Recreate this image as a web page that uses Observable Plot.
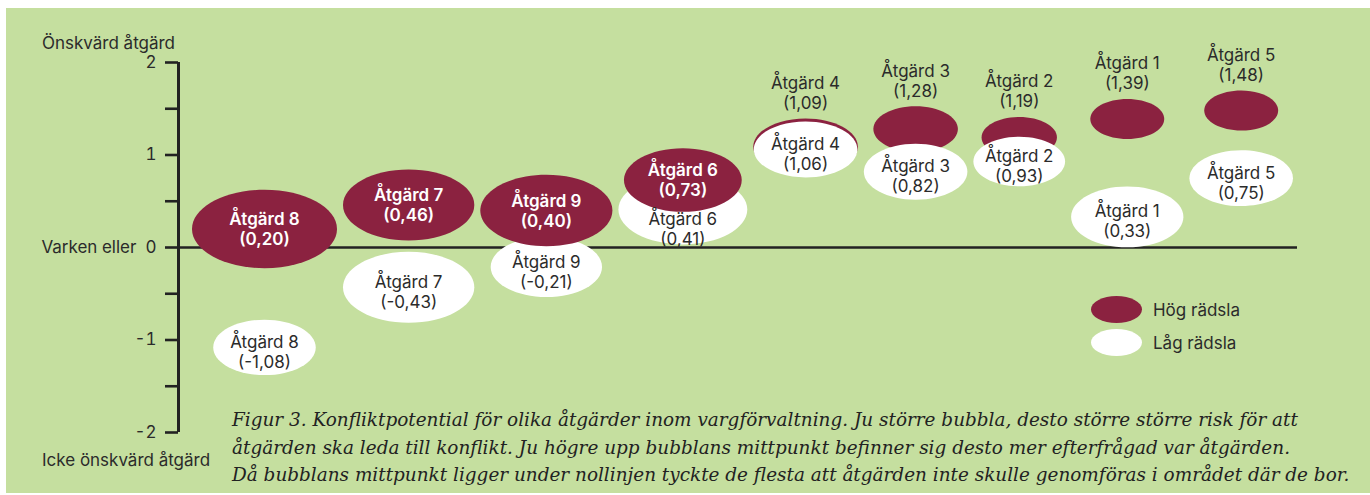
<!DOCTYPE html>
<html>
<head>
<meta charset="utf-8">
<script src="https://cdn.jsdelivr.net/npm/d3@7"></script>
<script src="https://cdn.jsdelivr.net/npm/@observablehq/plot@0.6"></script>
<style>
  body { margin: 0; background: #ffffff; width: 1370px; height: 495px; overflow: hidden; position: relative; font-family: Inter, "Noto Sans", sans-serif; }
  #bg { position: absolute; left: 6px; top: 8px; width: 1364px; height: 485px; background: #c5df9f; }
  #chart { position: absolute; left: 0; top: 0; }
  .axlab { position: absolute; color: #2b2b2b; white-space: nowrap; line-height: 1; }
  #legend { position: absolute; left: 1091px; top: 296px; display: flex; flex-direction: column; gap: 6px; }
  .lg { display: flex; align-items: center; gap: 11px; color: #2b2b2b; }
  .lg span.sw { display: inline-block; width: 51px; height: 27px; border-radius: 50%; }
  #caption { position: absolute; left: 232px; top: 406px; font-family: "DejaVu Serif", serif; font-style: italic; font-size: 17.5px; line-height: 27.5px; color: #222; white-space: nowrap; }
</style>
</head>
<body>
<div id="bg"></div>
<div id="chart"></div>
<div class="axlab" id="axTop"></div>
<div class="axlab" id="axBottom"></div>
<div id="legend"></div>
<div id="caption"></div>
<script>
// ---- data ----
const measures  = ["Åtgärd 8", "Åtgärd 7", "Åtgärd 9", "Åtgärd 6", "Åtgärd 4", "Åtgärd 3", "Åtgärd 2", "Åtgärd 1", "Åtgärd 5"];
const highFear  = [0.20, 0.46, 0.40, 0.73, 1.09, 1.28, 1.19, 1.39, 1.48];
const lowFear   = [-1.08, -0.43, -0.21, 0.41, 1.06, 0.82, 0.93, 0.33, 0.75];
// estimated conflict risk (relative bubble area)
const highRisk  = [100, 82, 83, 66, 52, 34, 27, 26, 26];
const lowRisk   = [50, 82, 59, 79, 51, 51, 40, 60, 51];
const series    = ["Hög rädsla", "Låg rädsla"];
const yTicks    = [-2, -1.5, -1, -0.5, 0, 0.5, 1, 1.5, 2];
const yTickText = {"-2": "-2", "-1": "-1", "0": "Varken eller\u00a0\u00a00", "1": "1", "2": "2"};
const axisTopText    = "Önskvärd åtgärd";
const axisBottomText = "Icke önskvärd åtgärd";
const captionLines = [
  "Figur 3. Konfliktpotential för olika åtgärder inom vargförvaltning. Ju större bubbla, desto större större risk för att",
  "åtgärden ska leda till konflikt. Ju högre upp bubblans mittpunkt befinner sig desto mer efterfrågad var åtgärden.",
  "Då bubblans mittpunkt ligger under nollinjen tyckte de flesta att åtgärden inte skulle genomföras i området där de bor."
];

// ---- style ----
const RED = "#8b2240", WHITE = "#ffffff", INK = "#2b2b2b";
const FONT = "Inter, 'Noto Sans', sans-serif";
const ASPECT = 1.85;
const W = 1370, H = 495, ML = 178, MR = 73, MT = 62, MB = 63;

// size the sans font so that it matches the reference's text widths
const mctx = document.createElement("canvas").getContext("2d");
mctx.font = "400 100px Inter";
const FS = +(100 * 133 / mctx.measureText(axisTopText).width).toFixed(2);

const rOpts = {type: "sqrt", domain: [0, 100], range: [0, 72.5]};
const rS = Plot.scale({r: rOpts});
const yS = Plot.scale({y: {domain: [-2, 2], range: [H - MB, MT]}});
const ryPx = risk => rS.apply(risk) / ASPECT;

// horizontal packing: bubbles placed side by side according to their size
const colR = measures.map((_, i) => Math.max(rS.apply(highRisk[i]), rS.apply(lowRisk[i])));
const xs = [];
colR.forEach((r, i) => { xs.push(i === 0 ? 13.5 + r : xs[i - 1] + colR[i - 1] + r + 6); });

const fmt = v => v.toFixed(2).replace(".", ",");
const rows = [];
measures.forEach((m, i) => {
  const hiInside = highRisk[i] >= 60;
  const hi = {measure: m, series: series[0], value: highFear[i], risk: highRisk[i], x: xs[i], inside: hiInside};
  // label of the low-fear bubble: centred in its visible part when the red bubble lies on top of it
  const wc = yS.apply(lowFear[i]), wb = wc + ryPx(lowRisk[i]);
  const rb = yS.apply(highFear[i]) + ryPx(highRisk[i]);
  const wTop = wc - ryPx(lowRisk[i]);
  const ly = hiInside && rb > wTop ? Math.max((rb + wb) / 2, wc + 4) : wc + 4;
  const lo = {measure: m, series: series[1], value: lowFear[i], risk: lowRisk[i], x: xs[i], inside: true, labelY: yS.invert(ly)};
  hi.labelY = hiInside ? highFear[i] : yS.invert(yS.apply(highFear[i]) - ryPx(highRisk[i]) - 26);
  rows.push(hi, lo);
});
const label = d => `${d.measure}\n(${fmt(d.value)})`;

const ellipse = {
  draw(ctx, size) {
    const rx = Math.sqrt(size / Math.PI), ry = rx / ASPECT, k = 0.5522847;
    ctx.moveTo(rx, 0);
    ctx.bezierCurveTo(rx, ry * k, rx * k, ry, 0, ry);
    ctx.bezierCurveTo(-rx * k, ry, -rx, ry * k, -rx, 0);
    ctx.bezierCurveTo(-rx, -ry * k, -rx * k, -ry, 0, -ry);
    ctx.bezierCurveTo(rx * k, -ry, rx, -ry * k, rx, 0);
    ctx.closePath();
  }
};

const redOut = rows.filter(d => d.series === series[0] && !d.inside);
const redIn = rows.filter(d => d.series === series[0] && d.inside);
const whites = rows.filter(d => d.series === series[1]);
const LH = 20 / FS;

const plot = Plot.plot({
  width: W, height: H,
  marginLeft: ML, marginRight: MR, marginTop: MT, marginBottom: MB,
  x: {type: "linear", domain: [0, W - ML - MR], axis: null},
  y: {domain: [-2, 2], axis: null},
  r: rOpts,
  style: {background: "transparent", fontFamily: FONT, fontSize: FS + "px", color: INK},
  marks: [
    Plot.ruleY([0], {stroke: "#222", strokeWidth: 2.6}),
    Plot.ruleX([0], {stroke: "#222", strokeWidth: 3}),
    Plot.axisY({ticks: yTicks, tickSize: 13, tickPadding: 9, strokeWidth: 2.6, stroke: "#222", label: null,
      tickFormat: d => yTickText[String(d)] ?? "", fill: INK, fontSize: FS}),
    Plot.dot(redOut, {x: "x", y: "value", r: "risk", symbol: ellipse, fill: RED, stroke: "none", sort: null}),
    Plot.dot(whites, {x: "x", y: "value", r: "risk", symbol: ellipse, fill: WHITE, stroke: "none", sort: null}),
    Plot.dot(redIn, {x: "x", y: "value", r: "risk", symbol: ellipse, fill: RED, stroke: "none", sort: null}),
    Plot.text(redIn, {x: "x", y: "labelY", text: label, fill: WHITE, fontWeight: 600, lineHeight: LH, fontSize: FS}),
    Plot.text(whites, {x: "x", y: "labelY", text: label, fill: INK, lineHeight: LH, fontSize: FS}),
    Plot.text(redOut, {x: "x", y: "labelY", text: label, fill: INK, lineHeight: LH, fontSize: FS})
  ]
});
document.getElementById("chart").appendChild(plot);

// axis end labels
const axTopEl = document.getElementById("axTop");
axTopEl.textContent = axisTopText; axTopEl.style.left = "42px"; axTopEl.style.top = "35px"; axTopEl.style.fontSize = FS + "px";
const axBotEl = document.getElementById("axBottom");
axBotEl.textContent = axisBottomText; axBotEl.style.left = "42px"; axBotEl.style.top = "452px"; axBotEl.style.fontSize = FS + "px";

// legend
const lg = document.getElementById("legend");
series.forEach((s, i) => {
  const row = document.createElement("div");
  row.className = "lg"; row.style.fontSize = FS + "px";
  const sw = document.createElement("span");
  sw.className = "sw"; sw.style.background = i === 0 ? RED : WHITE;
  const t = document.createElement("span"); t.textContent = s;
  row.appendChild(sw); row.appendChild(t); lg.appendChild(row);
});

// caption
const cap = document.getElementById("caption");
captionLines.forEach(l => { const d = document.createElement("div"); d.textContent = l; cap.appendChild(d); });
const w0 = cap.firstChild.getBoundingClientRect().width;
cap.style.fontSize = (17.5 * 1118 / w0).toFixed(2) + "px";
</script>
</body>
</html>
